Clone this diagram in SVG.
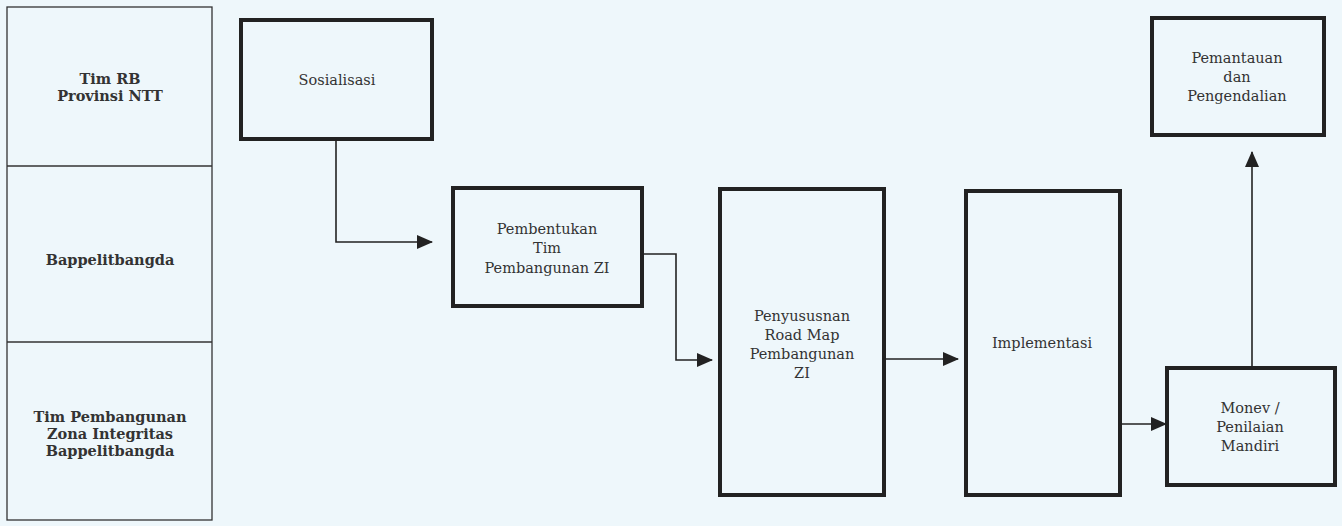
<svg xmlns="http://www.w3.org/2000/svg" width="1342" height="526" viewBox="0 0 1342 526">
<defs>
<marker id="ah" markerWidth="16" markerHeight="14" refX="15" refY="7" orient="auto" markerUnits="userSpaceOnUse">
<path d="M0,0 L16,7 L0,14 z" fill="#222"/>
</marker>
<style>
.bg{fill:#eef7fb}
.lane{fill:none;stroke:#333;stroke-width:1.3}
.box{fill:none;stroke:#222;stroke-width:4}
.t{font-family:"DejaVu Serif","Liberation Serif",serif;font-size:14.5px;fill:#333;text-anchor:middle}
.tb{font-family:"DejaVu Serif","Liberation Serif",serif;font-size:14.5px;font-weight:bold;fill:#333;text-anchor:middle}
.c{fill:none;stroke:#222;stroke-width:1.6}
</style>
</defs>
<rect class="bg" x="0" y="0" width="1342" height="526"/>
<g id="lanes">
<rect class="lane" x="7" y="7" width="205" height="513"/>
<line class="lane" x1="7" y1="166" x2="212" y2="166"/>
<line class="lane" x1="7" y1="342" x2="212" y2="342"/>
<text class="tb" x="110" y="84">Tim RB</text>
<text class="tb" x="110" y="101">Provinsi NTT</text>
<text class="tb" x="110" y="265">Bappelitbangda</text>
<text class="tb" x="110" y="422">Tim Pembangunan</text>
<text class="tb" x="110" y="439">Zona Integritas</text>
<text class="tb" x="110" y="456">Bappelitbangda</text>
</g>
<g id="sosialisasi">
<rect class="box" x="241" y="20" width="191" height="119"/>
<text class="t" x="337" y="85">Sosialisasi</text>
</g>
<g id="pembentukan">
<rect class="box" x="453" y="188" width="189" height="118"/>
<text class="t" x="547" y="234">Pembentukan</text>
<text class="t" x="547" y="253">Tim</text>
<text class="t" x="547" y="273">Pembangunan ZI</text>
</g>
<g id="penyusunan">
<rect class="box" x="720" y="189" width="164" height="306"/>
<text class="t" x="802" y="321">Penyususnan</text>
<text class="t" x="802" y="340">Road Map</text>
<text class="t" x="802" y="359">Pembangunan</text>
<text class="t" x="802" y="378">ZI</text>
</g>
<g id="implementasi">
<rect class="box" x="966" y="191" width="154" height="304"/>
<text class="t" x="1042" y="348">Implementasi</text>
</g>
<g id="monev">
<rect class="box" x="1167" y="368" width="168" height="117"/>
<text class="t" x="1250" y="413">Monev /</text>
<text class="t" x="1250" y="432">Penilaian</text>
<text class="t" x="1250" y="451">Mandiri</text>
</g>
<g id="pemantauan">
<rect class="box" x="1152" y="18" width="172" height="117"/>
<text class="t" x="1237" y="63">Pemantauan</text>
<text class="t" x="1237" y="82">dan</text>
<text class="t" x="1237" y="101">Pengendalian</text>
</g>
<g id="connectors">
<path class="c" d="M336,139 V242 H432" marker-end="url(#ah)"/>
<path class="c" d="M642,254 H676 V360 H712" marker-end="url(#ah)"/>
<path class="c" d="M884,359 H958" marker-end="url(#ah)"/>
<path class="c" d="M1120,424 H1166" marker-end="url(#ah)"/>
<path class="c" d="M1252,366 V152" marker-end="url(#ah)"/>
</g>
</svg>
